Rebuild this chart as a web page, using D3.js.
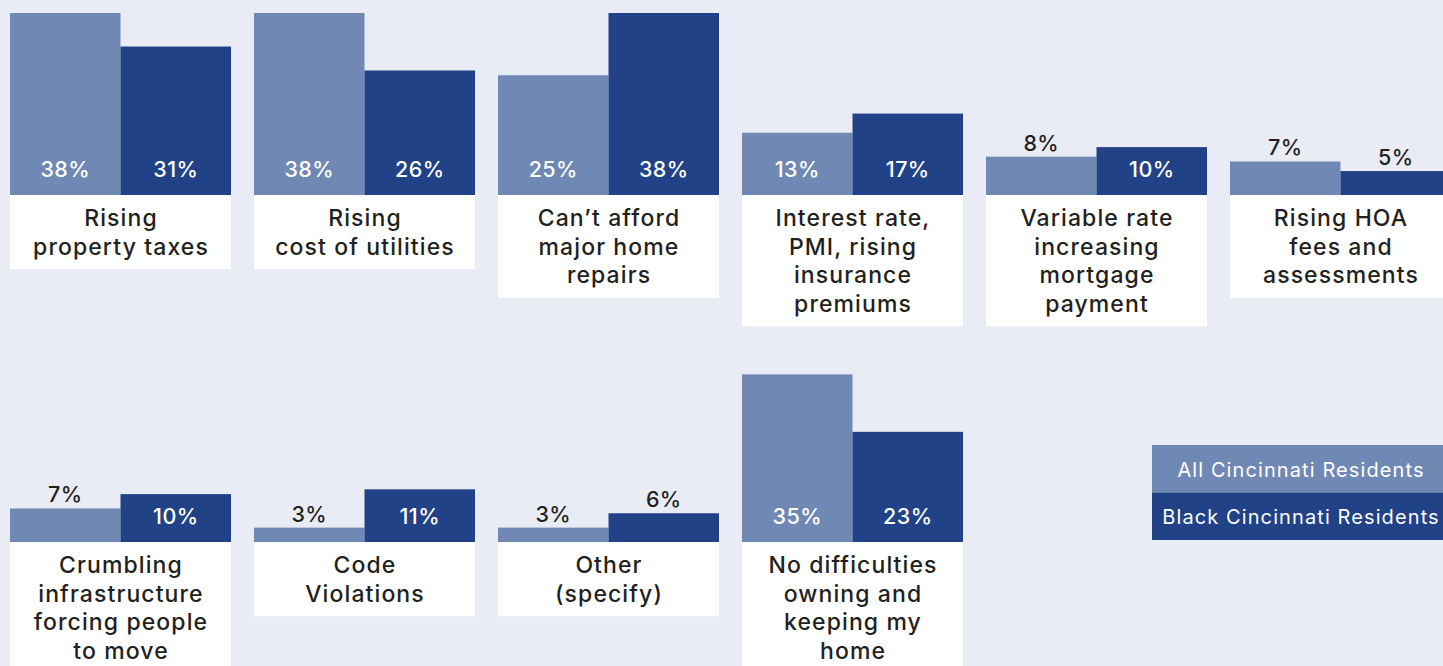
<!DOCTYPE html>
<html>
<head>
<meta charset="utf-8">
<script src="https://cdn.jsdelivr.net/npm/d3@7"></script>
<style>
  html, body { margin: 0; padding: 0; background: #e9ecf4; }
  svg { display: block; }
  text { font-family: Inter, "Noto Sans", sans-serif; }
</style>
</head>
<body>
<svg id="chart" width="1443" height="666"></svg>
<script>
// Homeownership difficulties, share of respondents (%)
const categories = [
  ["Rising", "property taxes"],
  ["Rising", "cost of utilities"],
  ["Can\u2019t afford", "major home", "repairs"],
  ["Interest rate,", "PMI, rising", "insurance", "premiums"],
  ["Variable rate", "increasing", "mortgage", "payment"],
  ["Rising HOA", "fees and", "assessments"],
  ["Crumbling", "infrastructure", "forcing people", "to move"],
  ["Code", "Violations"],
  ["Other", "(specify)"],
  ["No difficulties", "owning and", "keeping my", "home"]
];
const seriesNames = ["All Cincinnati Residents", "Black Cincinnati Residents"];
const allResidents   = [38, 38, 25, 13, 8, 7, 7, 3, 3, 35];
const blackResidents = [31, 26, 38, 17, 10, 5, 10, 11, 6, 23];

const colors = ["#7089b4", "#214287"];
const perRow = 6;
const rowBase = [195, 542];      // baseline of the bars in each row
const lineH = 28.6;
const fontSize = 23;

const svg = d3.select("#chart");

// column positions of the small multiples
const col = d3.scaleBand()
  .domain(d3.range(perRow))
  .range([10, 1451])
  .paddingInner(23 / 244)
  .paddingOuter(0);

// two bars per panel
const sub = d3.scaleBand()
  .domain([0, 1])
  .range([0, col.bandwidth()]);

// bar height in px per percent
const y = d3.scaleLinear().domain([0, 38]).range([0, 182]);

const data = categories.map((lines, i) => ({
  lines,
  values: [allResidents[i], blackResidents[i]],
  row: Math.floor(i / perRow),
  col: i % perRow
}));

const panels = svg.selectAll("g.panel")
  .data(data)
  .join("g")
  .attr("class", "panel")
  .attr("transform", d => `translate(${col(d.col)},${rowBase[d.row]})`);

// bars
panels.selectAll("rect.bar")
  .data(d => d.values.map((v, s) => ({ v, s })))
  .join("rect")
  .attr("class", "bar")
  .attr("x", d => sub(d.s))
  .attr("y", d => -y(d.v))
  .attr("width", sub.bandwidth())
  .attr("height", d => y(d.v))
  .attr("fill", d => colors[d.s]);

// value labels: inside tall bars, above short ones
panels.selectAll("text.val")
  .data(d => d.values.map((v, s) => ({ v, s })))
  .join("text")
  .attr("class", "val")
  .attr("x", d => sub(d.s) + sub.bandwidth() / 2)
  .attr("y", d => y(d.v) >= 40 ? -18 : -y(d.v) - 6)
  .attr("text-anchor", "middle")
  .attr("font-size", 21.5)
  .attr("font-weight", 500)
  .attr("letter-spacing", 0.4)
  .attr("fill", d => y(d.v) >= 40 ? "#ffffff" : "#231f20")
  .text(d => d.v + "%");

// white label boxes
panels.append("rect")
  .attr("x", 0)
  .attr("y", 0)
  .attr("width", col.bandwidth())
  .attr("height", d => 17 + lineH * d.lines.length)
  .attr("fill", "#ffffff");

panels.append("text")
  .attr("text-anchor", "middle")
  .attr("font-size", fontSize)
  .attr("font-weight", 500)
  .attr("letter-spacing", 1.1)
  .attr("fill", "#231f20")
  .selectAll("tspan")
  .data(d => d.lines)
  .join("tspan")
  .attr("x", col.bandwidth() / 2 + 0.5)
  .attr("y", (d, i) => 31 + i * lineH)
  .text(d => d);

// legend
const legend = svg.append("g").attr("transform", "translate(1152,445)");
legend.selectAll("rect")
  .data(seriesNames)
  .join("rect")
  .attr("x", 0)
  .attr("y", (d, i) => i * 47.5)
  .attr("width", 291)
  .attr("height", 47.5)
  .attr("fill", (d, i) => colors[i]);
legend.selectAll("text")
  .data(seriesNames)
  .join("text")
  .attr("x", 149)
  .attr("y", (d, i) => i * 47.5 + 31.5)
  .attr("text-anchor", "middle")
  .attr("font-size", 20)
  .attr("font-weight", 400)
  .attr("letter-spacing", 1.1)
  .attr("fill", "#ffffff")
  .text(d => d);
</script>
</body>
</html>
